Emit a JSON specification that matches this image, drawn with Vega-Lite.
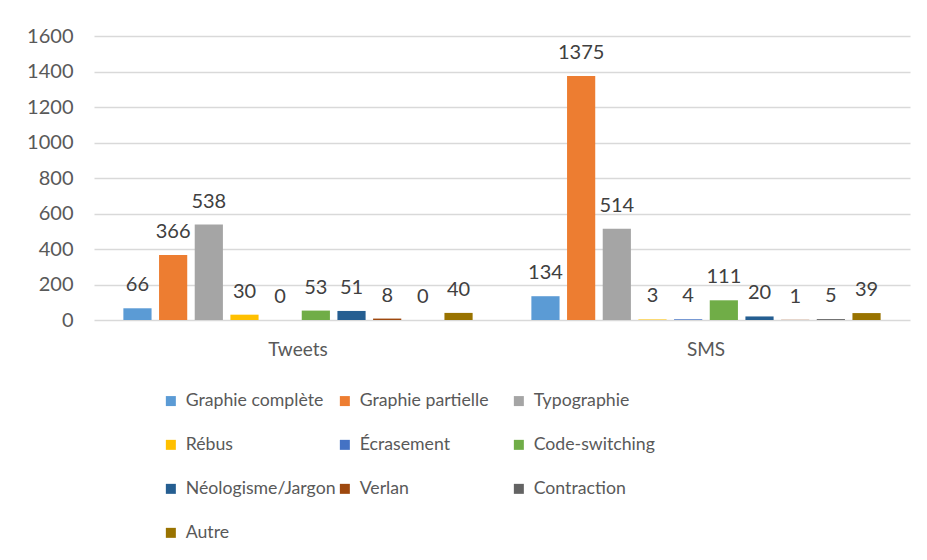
{
  "$schema": "https://vega.github.io/schema/vega-lite/v6.json",
  "autosize": "none",
  "width": 816,
  "height": 284,
  "padding": {"left": 94, "top": 36, "right": 17, "bottom": 240},
  "background": "white",
  "data": {"values": [
    {"groupe": "Tweets", "type": "Graphie complète", "n": 66},
    {"groupe": "Tweets", "type": "Graphie partielle", "n": 366},
    {"groupe": "Tweets", "type": "Typographie", "n": 538},
    {"groupe": "Tweets", "type": "Rébus", "n": 30},
    {"groupe": "Tweets", "type": "Écrasement", "n": 0},
    {"groupe": "Tweets", "type": "Code-switching", "n": 53},
    {"groupe": "Tweets", "type": "Néologisme/Jargon", "n": 51},
    {"groupe": "Tweets", "type": "Verlan", "n": 8},
    {"groupe": "Tweets", "type": "Contraction", "n": 0},
    {"groupe": "Tweets", "type": "Autre", "n": 40},
    {"groupe": "SMS", "type": "Graphie complète", "n": 134},
    {"groupe": "SMS", "type": "Graphie partielle", "n": 1375},
    {"groupe": "SMS", "type": "Typographie", "n": 514},
    {"groupe": "SMS", "type": "Rébus", "n": 3},
    {"groupe": "SMS", "type": "Écrasement", "n": 4},
    {"groupe": "SMS", "type": "Code-switching", "n": 111},
    {"groupe": "SMS", "type": "Néologisme/Jargon", "n": 20},
    {"groupe": "SMS", "type": "Verlan", "n": 1},
    {"groupe": "SMS", "type": "Contraction", "n": 5},
    {"groupe": "SMS", "type": "Autre", "n": 39}
  ]},
  "config": {
    "font": "Lato",
    "view": {"stroke": null}
  },
  "encoding": {
    "x": {
      "field": "groupe", "type": "nominal", "sort": ["Tweets", "SMS"],
      "scale": {"paddingInner": 0.13, "paddingOuter": 0.065},
      "axis": {
        "title": null, "labelAngle": 0, "ticks": false,
        "domain": false,
        "labelFontSize": 19, "labelColor": "#595959", "labelPadding": 20
      }
    },
    "xOffset": {
      "field": "type", "type": "nominal",
      "sort": ["Graphie complète", "Graphie partielle", "Typographie", "Rébus", "Écrasement", "Code-switching", "Néologisme/Jargon", "Verlan", "Contraction", "Autre"],
      "scale": {"paddingInner": 0.21, "paddingOuter": 0.08}
    },
    "y": {
      "field": "n", "type": "quantitative",
      "scale": {"domain": [0, 1600], "nice": false},
      "axis": {
        "title": null, "values": [0, 200, 400, 600, 800, 1000, 1200, 1400, 1600],
        "format": "d",
        "domain": false, "ticks": false,
        "labelFontSize": 20, "labelColor": "#595959", "labelPadding": 21,
        "gridColor": "#D9D9D9", "gridWidth": 1.5
      }
    }
  },
  "layer": [
    {
      "mark": {"type": "bar"},
      "encoding": {
        "color": {
          "field": "type", "type": "nominal",
          "sort": ["Graphie complète", "Graphie partielle", "Typographie", "Rébus", "Écrasement", "Code-switching", "Néologisme/Jargon", "Verlan", "Contraction", "Autre"],
          "scale": {
            "domain": ["Graphie complète", "Graphie partielle", "Typographie", "Rébus", "Écrasement", "Code-switching", "Néologisme/Jargon", "Verlan", "Contraction", "Autre"],
            "range": ["#5B9BD5", "#ED7D31", "#A5A5A5", "#FFC000", "#4472C4", "#70AD47", "#255E91", "#9E480E", "#636363", "#997300"]
          },
          "legend": {
            "title": null,
            "orient": "none",
            "legendX": 68,
            "legendY": 356,
            "direction": "horizontal",
            "columns": 3,
            "gridAlign": "all",
            "padding": 0,
            "symbolType": "square",
            "symbolSize": 100,
            "symbolStrokeWidth": 0,
            "labelFontSize": 17.7,
            "labelColor": "#595959",
            "labelOffset": 6,
            "labelLimit": 300,
            "columnPadding": 0,
            "rowPadding": 25
          }
        }
      }
    },
    {
      "mark": {"type": "text", "baseline": "bottom", "dy": -13, "fontSize": 20, "color": "#404040"},
      "encoding": {"text": {"field": "n", "type": "quantitative"}}
    }
  ]
}
